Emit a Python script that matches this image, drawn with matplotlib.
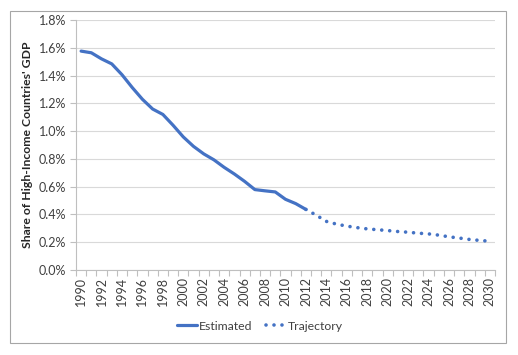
import matplotlib
matplotlib.use("Agg")
import matplotlib.pyplot as plt
from matplotlib.ticker import FixedLocator, FuncFormatter
from matplotlib.patches import Rectangle

years = list(range(1990, 2031))
estimated_years = list(range(1990, 2013))
estimated = [1.576, 1.564, 1.52, 1.484, 1.406, 1.314, 1.229, 1.159, 1.12, 1.042,
             0.958, 0.89, 0.836, 0.793, 0.739, 0.691, 0.638, 0.579, 0.57, 0.562,
             0.509, 0.478, 0.436]
trajectory_years = list(range(2012, 2031))
trajectory = [0.436, 0.395, 0.35, 0.33, 0.316, 0.305, 0.296, 0.29, 0.284, 0.277,
              0.272, 0.265, 0.26, 0.251, 0.239, 0.23, 0.22, 0.213, 0.207]
yticks = [0.0, 0.2, 0.4, 0.6, 0.8, 1.0, 1.2, 1.4, 1.6, 1.8]

plt.rcParams['font.family'] = ['Lato', 'DejaVu Sans']
blue = '#4472C4'

fig = plt.figure(figsize=(5.18, 3.55), dpi=100)
fig.patches.append(Rectangle((10/518, 1-343/355), 496/518, 332/355, transform=fig.transFigure,
                             fill=False, edgecolor='#A6A6A6', linewidth=0.8))
ax = fig.add_axes([76/518, 1-270/355, 419/518, 250/355])

xi = {y: i for i, y in enumerate(years)}
ax.plot([xi[y] for y in estimated_years], estimated, color=blue, lw=2.3,
        solid_capstyle='round', label='Estimated', zorder=3)
ax.plot([xi[y] for y in trajectory_years], trajectory, color=blue, lw=2.6,
        linestyle=(0, (0.01, 2.2)), dash_capstyle='round', label='Trajectory', zorder=3)

ax.set_xlim(-0.5, len(years) - 0.5)
ax.set_ylim(0, 1.8)
ax.set_yticks(yticks)
ax.yaxis.set_major_formatter(FuncFormatter(lambda v, p: f"{v:.1f}%"))
ax.set_xticks([i for i, y in enumerate(years) if y % 2 == 0])
ax.set_xticklabels([str(y) for y in years if y % 2 == 0], rotation=90)
ax.xaxis.set_minor_locator(FixedLocator([i - 0.5 for i in range(len(years) + 1)]))
ax.tick_params(axis='x', which='major', length=0, pad=5, labelsize=9, colors='#404040')
ax.tick_params(axis='x', which='minor', length=4, color='#BFBFBF', width=0.8)
ax.tick_params(axis='y', length=4, color='#BFBFBF', width=0.8, labelsize=9, labelcolor='#404040', pad=3)
ax.grid(axis='y', color='#D9D9D9', linewidth=0.8)
ax.set_axisbelow(True)
for s in ['top', 'right']:
    ax.spines[s].set_visible(False)
ax.spines['left'].set_color('#BFBFBF')
ax.spines['bottom'].set_color('#BFBFBF')
ax.set_ylabel("Share of High-Income Countries' GDP", fontsize=8.8, fontweight='bold',
              color='#262626', labelpad=4)

fig.legend(loc='center', bbox_to_anchor=(260/518, 1-326/355), ncol=2, frameon=False,
           fontsize=8.8, handlelength=1.6, handletextpad=0.2, columnspacing=1.1,
           labelcolor='#404040')

fig.savefig('out.png', dpi=100)
